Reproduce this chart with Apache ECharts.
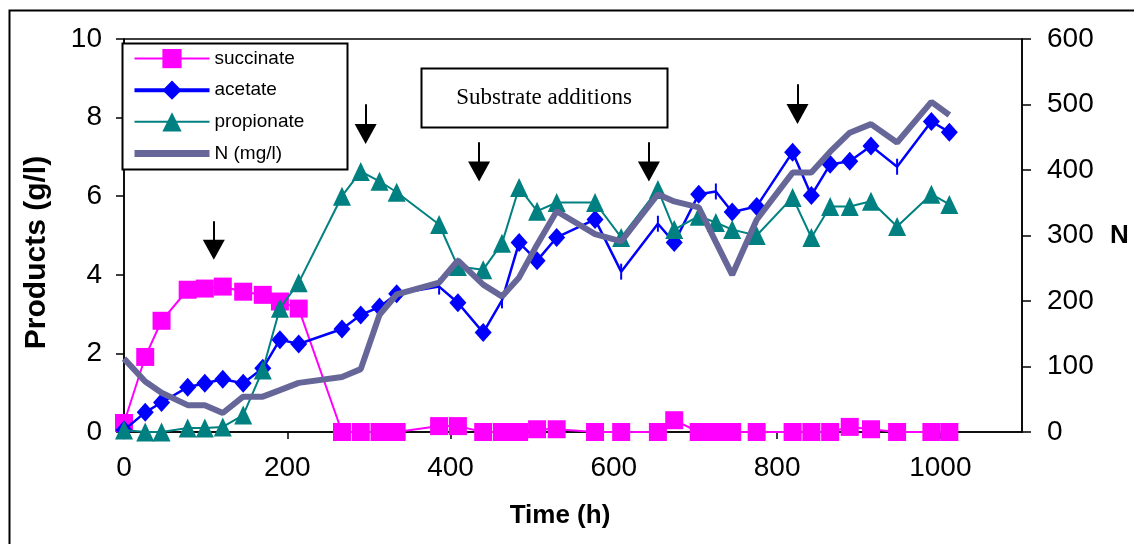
<!DOCTYPE html>
<html>
<head>
<meta charset="utf-8">
<script src="https://cdn.jsdelivr.net/npm/echarts@6/dist/echarts.min.js"></script>
<style>
  html, body { margin: 0; padding: 0; background: #fff; }
  #chart { width: 1134px; height: 544px; }
</style>
</head>
<body>
<div id="chart"></div>
<script>
// sampling times (h), shared by every series
const time = [0, 26, 46, 78, 99, 121, 146, 170, 191, 214, 267, 290, 313, 334, 386, 409, 440, 463, 484, 506,
  530, 577, 609, 654, 674, 704, 725, 745, 775, 819, 842, 865, 889, 915, 947, 989, 1011];
// products (g/l)
const succinate = [0.23, 1.91, 2.83, 3.62, 3.65, 3.7, 3.57, 3.49, 3.32, 3.14, 0, 0, 0, 0, 0.15, 0.15, 0, 0, 0, 0.07,
  0.07, 0, 0, 0, 0.3, 0, 0, 0, 0, 0, 0, 0, 0.13, 0.07, 0, 0, 0];
const acetate = [0.05, 0.5, 0.75, 1.14, 1.24, 1.34, 1.24, 1.62, 2.35, 2.24, 2.62, 2.98, 3.18, 3.52, 3.7, 3.29, 2.53, 3.35, 4.82, 4.36,
  4.95, 5.41, 4.08, 5.3, 4.82, 6.05, 6.12, 5.6, 5.74, 7.12, 6.02, 6.81, 6.89, 7.28, 6.75, 7.9, 7.63];
const propionate = [0.05, 0, 0, 0.1, 0.1, 0.13, 0.43, 1.58, 3.15, 3.8, 6.0, 6.63, 6.38, 6.1, 5.28, 4.21, 4.13, 4.8, 6.22, 5.62,
  5.84, 5.84, 4.95, 6.17, 5.15, 5.49, 5.33, 5.15, 5.0, 5.97, 4.95, 5.74, 5.74, 5.87, 5.23, 6.05, 5.79];
// N (mg/l), right axis
const nitrogen = [112, 77, 60, 41, 41, 29, 54, 54, 64, 75, 84, 96, 179, 210, 228, 262, 225, 207, 236, 286,
  337, 302, 291, 363, 352, 343, 290, 240, 324, 396, 396, 428, 457, 470, 442, 504, 484];
// acetate points drawn with a plain vertical tick instead of a diamond
const acetateTickTimes = [386, 463, 609, 654, 725, 947];

// substrate addition arrows (time, shaft top, arrow head)
const arrowTimes = [110, 296, 435, 643, 825];
const arrowTop = [5.36, 8.34, 7.37, 7.37, 8.85];
const arrowHead = [4.64, 7.58, 6.63, 6.63, 8.09];

const xTicks = [0, 200, 400, 600, 800, 1000];

const FONT = "Liberation Sans, Arial, sans-serif";

function pairs(ys) {
  return time.map((t, i) => [t, ys[i]]);
}

const acetateData = time.map((t, i) => {
  if (acetateTickTimes.indexOf(t) >= 0) {
    return { value: [t, acetate[i]], symbol: "rect", symbolSize: [2, 16] };
  }
  return [t, acetate[i]];
});

const arrowLines = arrowTimes.map((t, i) => [
  { coord: [t, arrowTop[i]] },
  { coord: [t, arrowHead[i]] },
]);

const chart = echarts.init(document.getElementById("chart"));

const option = {
  backgroundColor: "#fff",
  animation: false,
  grid: {
    left: 124,
    right: 112,
    top: 39,
    bottom: 112,
    show: true,
    borderColor: "#000",
    borderWidth: 1.5,
  },
  legend: {
    data: [
      { name: "succinate" },
      { name: "acetate", lineStyle: { width: 4 } },
      { name: "propionate" },
      { name: "N (mg/l)", itemStyle: { opacity: 0 }, lineStyle: { width: 7 } },
    ],
    orient: "vertical",
    left: 131,
    top: 49,
    padding: 0,
    itemWidth: 75,
    itemHeight: 24,
    itemGap: 12.4,
    textStyle: { fontFamily: FONT, fontSize: 19, color: "#000" },
    z: 10,
  },
  xAxis: {
    type: "value",
    min: 0,
    max: 1100,
    interval: 200,
    name: "Time (h)",
    nameLocation: "middle",
    nameGap: 71,
    nameTextStyle: { fontFamily: FONT, fontSize: 26, fontWeight: "bold", color: "#000", padding: [0, 26, 0, 0] },
    axisLine: { show: true, onZero: false, lineStyle: { color: "#000", width: 1.5 } },
    axisTick: { show: true, length: 7, lineStyle: { color: "#000", width: 1.5 }, customValues: xTicks },
    axisLabel: {
      margin: 22,
      fontFamily: FONT,
      fontSize: 28,
      color: "#000",
      customValues: xTicks,
      formatter: (v) => String(v),
    },
    splitLine: { show: false },
  },
  yAxis: [
    {
      type: "value",
      min: 0,
      max: 10,
      interval: 2,
      position: "left",
      name: "Products (g/l)",
      nameLocation: "middle",
      nameGap: 72,
      nameTextStyle: { fontFamily: FONT, fontSize: 30, fontWeight: "bold", color: "#000", padding: [0, 34, 0, 0] },
      axisLine: { show: true, lineStyle: { color: "#000", width: 1.5 } },
      axisTick: { show: true, length: 8, lineStyle: { color: "#000", width: 1.5 } },
      axisLabel: { margin: 22, fontFamily: FONT, fontSize: 28, color: "#000" },
      splitLine: { show: false },
    },
    {
      type: "value",
      min: 0,
      max: 600,
      interval: 100,
      position: "right",
      name: "N",
      nameLocation: "middle",
      nameRotate: 0,
      nameGap: 88,
      nameTextStyle: { fontFamily: FONT, fontSize: 26, fontWeight: "bold", color: "#000" },
      axisLine: { show: true, lineStyle: { color: "#000", width: 1.5 } },
      axisTick: { show: true, length: 9, lineStyle: { color: "#000", width: 1.5 } },
      axisLabel: { margin: 25, fontFamily: FONT, fontSize: 28, color: "#000" },
      splitLine: { show: false },
    },
  ],
  graphic: [
    {
      type: "rect",
      z: -10,
      silent: true,
      shape: { x: 9.5, y: 10.5, width: 1300, height: 700 },
      style: { fill: "none", stroke: "#000", lineWidth: 2 },
    },
    {
      type: "rect",
      z: 5,
      silent: true,
      shape: { x: 122.5, y: 43.5, width: 225, height: 126 },
      style: { fill: "#fff", stroke: "#000", lineWidth: 2 },
    },
    {
      type: "rect",
      z: 5,
      silent: true,
      shape: { x: 421.5, y: 68.5, width: 246, height: 59 },
      style: { fill: "#fff", stroke: "#000", lineWidth: 2 },
    },
    {
      type: "text",
      z: 6,
      silent: true,
      x: 544,
      y: 98,
      style: {
        text: "Substrate additions",
        fontFamily: "Liberation Serif, Times New Roman, serif",
        fontSize: 23,
        fill: "#000",
        align: "center",
        verticalAlign: "middle",
      },
    },
  ],
  series: [
    {
      name: "succinate",
      type: "line",
      yAxisIndex: 0,
      data: pairs(succinate),
      symbol: "rect",
      symbolSize: 18,
      color: "#ff00ff",
      lineStyle: { color: "#ff00ff", width: 2 },
      itemStyle: { color: "#ff00ff" },
      z: 2,
    },
    {
      name: "acetate",
      type: "line",
      yAxisIndex: 0,
      data: acetateData,
      symbol: "diamond",
      symbolSize: [17, 19],
      color: "#0000ff",
      lineStyle: { color: "#0000ff", width: 2.5 },
      itemStyle: { color: "#0000ff" },
      z: 3,
    },
    {
      name: "propionate",
      type: "line",
      yAxisIndex: 0,
      data: pairs(propionate),
      symbol: "triangle",
      symbolSize: [18, 19],
      color: "#008080",
      lineStyle: { color: "#008080", width: 2 },
      itemStyle: { color: "#008080" },
      z: 4,
    },
    {
      name: "N (mg/l)",
      type: "line",
      yAxisIndex: 1,
      data: pairs(nitrogen),
      symbol: "none",
      color: "#666699",
      lineStyle: { color: "#666699", width: 6 },
      z: 5,
    },
    {
      name: "additions",
      type: "line",
      yAxisIndex: 0,
      data: [],
      markLine: {
        silent: true,
        symbol: ["none", "triangle"],
        symbolSize: [22, 20],
        label: { show: false },
        lineStyle: { color: "#000", width: 2, type: "solid" },
        itemStyle: { color: "#000" },
        emphasis: { disabled: true },
        data: arrowLines,
      },
    },
  ],
};

chart.setOption(option);
</script>
</body>
</html>
